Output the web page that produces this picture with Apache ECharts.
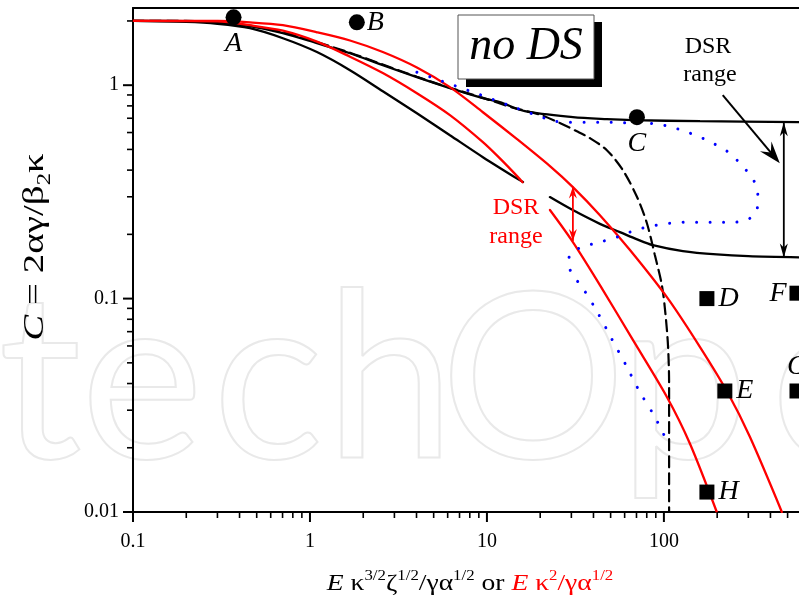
<!DOCTYPE html>
<html><head><meta charset="utf-8">
<script src="https://cdn.jsdelivr.net/npm/echarts@6/dist/echarts.min.js"></script>
<style>html,body{margin:0;padding:0;background:#fff}#c{width:799px;height:602px}</style>
</head><body><div id="c"></div>
<script>
const X_MIN = 0.1, X_MAX = 580, Y_MIN = 0.01, Y_MAX = 2.3;
const xTickValues = [0.1, 1, 10, 100];
const xTickLabels = ['0.1', '1', '10', '100'];
const yTickValues = [0.01, 0.1, 1];
const yTickLabels = ['0.01', '0.1', '1'];
const xMinorTickValues = [0.2,0.3,0.4,0.5,0.6,0.7,0.8,0.9,2,3,4,5,6,7,8,9,20,30,40,50,60,70,80,90,200,300,400,500];
const yMinorTickValues = [0.02,0.03,0.04,0.05,0.06,0.07,0.08,0.09,0.2,0.3,0.4,0.5,0.6,0.7,0.8,0.9,2];

const blackUpper = [[0.1,2.0],[0.2,1.995],[0.3,1.97],[0.458,1.89],[0.703,1.752],[1.095,1.573],[1.683,1.412],[2.58,1.241],[4.02,1.09],[6.18,0.968],[9.49,0.869],[11.8,0.833],[16.4,0.755],[30.6,0.708],[47.6,0.693],[66.8,0.686],[160,0.678],[580,0.671]];
const blackLowerA = [[0.1,2.0],[0.2,1.98],[0.3,1.94],[0.458,1.85],[0.703,1.66],[1.095,1.43],[1.683,1.176],[2.58,0.937],[4.02,0.739],[6.18,0.583],[9.49,0.46],[15.3,0.359],[16,0.352]];
const blackLowerB = [[22.7,0.299],[30,0.262],[43.5,0.224],[56.4,0.205],[70,0.19],[86.6,0.178],[128,0.167],[199,0.161],[300,0.158],[580,0.156]];
const redUpper = [[0.1,2.0],[0.3,2.0],[0.458,1.97],[0.703,1.91],[1.095,1.77],[1.683,1.62],[2.58,1.43],[4.02,1.21],[6.18,0.979],[9.49,0.747],[14.8,0.5585],[22.7,0.4175],[30.6,0.333],[43.5,0.246],[64.3,0.169],[104,0.1016],[160,0.0593],[230,0.0361],[306,0.0225],[464,0.01]];
const redLowerA = [[0.1,2.0],[0.3,1.99],[0.458,1.91],[0.703,1.8],[1.095,1.6],[1.683,1.36],[2.58,1.14],[4.02,0.917],[6.18,0.724],[9.49,0.541],[11.8,0.455],[14.8,0.375],[15.9,0.351]];
const redLowerB = [[22.7,0.26],[30.6,0.184],[43.5,0.1157],[66.8,0.064],[104,0.0346],[140,0.021],[199,0.01]];
const dashedCurve = [[0.1,2.0],[0.2,2.0],[0.3,1.98],[0.458,1.9],[0.703,1.77],[1.095,1.59],[1.683,1.42],[2.58,1.25],[4.02,1.095],[6.18,0.972],[9.49,0.872],[14,0.785],[19.9,0.728],[25.8,0.665],[32,0.61],[38.2,0.565],[47.6,0.496],[58.6,0.4],[70.4,0.3],[80.1,0.226],[88.9,0.16],[97.5,0.115],[102,0.085],[105.5,0.06],[107,0.04],[107,0.01]];
const blueDotted = [[4.02,1.15],[4.83,1.09],[5.79,1.033],[6.95,0.979],[8.34,0.927],[10.0,0.879],[11.84,0.833],[14.2,0.789],[17.05,0.747],[20.45,0.708],[24.2,0.678],[29.4,0.671],[35.8,0.671],[43.5,0.671],[52.8,0.671],[64.3,0.664],[76.0,0.664],[92.5,0.657],[111,0.636],[135,0.603],[160,0.571],[189,0.535],[227,0.491],[262,0.441],[298,0.391],[327,0.348],[340,0.299],[335,0.26],[294,0.233],[236,0.228],[194,0.228],[160,0.228],[133,0.228],[111,0.226],[91.2,0.221],[76.0,0.214],[64.3,0.205],[54.2,0.194],[43.5,0.184],[35.8,0.176],[30.2,0.165],[28.7,0.1466],[30.6,0.129],[34.8,0.112],[42.4,0.0855],[50.8,0.0646],[61.0,0.0488],[73.1,0.0365],[88.9,0.0279],[105.4,0.021]];

const circleNames = ['A', 'B', 'C'];
const circleX = [0.37, 1.84, 70.4];
const circleY = [2.08, 1.97, 0.708];
const squareNames = ['D', 'E', 'F', 'G', 'H'];
const squareX = [175, 221, 565, 565, 175];
const squareY = [0.1, 0.0369, 0.106, 0.0369, 0.0124];

const blackArrowX = 476, blackArrowTop = 0.671, blackArrowBottom = 0.156;
const redArrowX = 30.6, redArrowTop = 0.335, redArrowBottom = 0.186;
const diagArrowFrom = [215, 0.898], diagArrowTo = [452, 0.431];

const F = 'Liberation Serif';
const labelPos = {A:['bottom',4], B:['right',2], C:['bottom',4], D:['right',4], E:['right',4], F:['left',3], G:['top',3], H:['right',4]};

function fmt(values, labels) {
  return function (v) {
    for (let i = 0; i < values.length; i++) {
      if (Math.abs(Math.log10(v / values[i])) < 1e-6) return labels[i];
    }
    return '';
  };
}
function tickSeries(data, dir, len, width) {
  return {
    type: 'custom', coordinateSystem: 'cartesian2d', silent: true, clip: false, z: 6,
    data: data,
    renderItem: function (params, api) {
      const p = api.coord([api.value(0), api.value(1)]);
      const shape = dir === 'x' ? {x1: p[0], y1: p[1], x2: p[0], y2: p[1] + len}
                                : {x1: p[0], y1: p[1], x2: p[0] - len, y2: p[1]};
      return {type: 'line', shape: shape, style: {stroke: '#000', lineWidth: width}};
    }
  };
}
function lineSeries(data, color, type, width, z) {
  return {type: 'line', data: data, showSymbol: false, symbol: 'none', smooth: 0.3, z: z || 2, silent: true,
    lineStyle: {color: color, width: width, type: type, cap: 'round', opacity: 1}};
}
const pointLabel = {show: true, formatter: '{b}', fontFamily: F, fontStyle: 'italic', fontSize: 28, color: '#000', opacity: 1};

const chart = echarts.init(document.getElementById('c'), null, {renderer: 'canvas'});
const option = {
  animation: false,
  backgroundColor: '#fff',
  grid: {left: 133, right: 0, top: 8, bottom: 90, containLabel: false, outerBoundsMode: 'none'},
  xAxis: [
    {type: 'log', logBase: 10, min: X_MIN, max: X_MAX, position: 'bottom',
      axisLine: {onZero: false, lineStyle: {color: '#000', width: 2}},
      axisTick: {show: false}, splitLine: {show: false},
      axisLabel: {formatter: fmt(xTickValues, xTickLabels), fontFamily: F, fontSize: 20, color: '#000', margin: 20}},
    {type: 'log', logBase: 10, min: X_MIN, max: X_MAX, position: 'top',
      axisLine: {onZero: false, lineStyle: {color: '#000', width: 2}},
      axisTick: {show: false}, splitLine: {show: false}, axisLabel: {show: false}}
  ],
  yAxis: [
    {type: 'log', logBase: 10, min: Y_MIN, max: Y_MAX,
      axisLine: {onZero: false, lineStyle: {color: '#000', width: 2}},
      axisTick: {show: false}, splitLine: {show: false},
      axisLabel: {formatter: fmt(yTickValues, yTickLabels), fontFamily: F, fontSize: 20, color: '#000', margin: 14}}
  ],
  series: [
    tickSeries(xTickValues.map(v => [v, Y_MIN]), 'x', 10, 2),
    tickSeries(xMinorTickValues.map(v => [v, Y_MIN]), 'x', 6, 1.6),
    tickSeries(yTickValues.map(v => [X_MIN, v]), 'y', 10, 2),
    tickSeries(yMinorTickValues.map(v => [X_MIN, v]), 'y', 6, 1.6),
    lineSeries(blackUpper, '#000', 'solid', 2.3),
    lineSeries(blackLowerA, '#000', 'solid', 2.3),
    lineSeries(blackLowerB, '#000', 'solid', 2.3),
    lineSeries(dashedCurve, '#000', [11, 6], 2.2),
    lineSeries(redUpper, '#ff0000', 'solid', 2.3),
    lineSeries(redLowerA, '#ff0000', 'solid', 2.3),
    lineSeries(redLowerB, '#ff0000', 'solid', 2.3),
    lineSeries(blueDotted, '#0000ff', [0.01, 13.5], 3, 3),
    {type: 'scatter', symbol: 'circle', symbolSize: 16, z: 5, silent: true,
      itemStyle: {color: '#000', opacity: 1},
      label: pointLabel,
      data: circleNames.map((n, i) => ({name: n, value: [circleX[i], circleY[i]],
        label: {position: labelPos[n][0], distance: labelPos[n][1]}}))},
    {type: 'scatter', symbol: 'rect', symbolSize: 15, z: 5, silent: true,
      itemStyle: {color: '#000', opacity: 1},
      label: pointLabel,
      data: squareNames.map((n, i) => ({name: n, value: [squareX[i], squareY[i]],
        label: {position: labelPos[n][0], distance: labelPos[n][1]}}))}
  ]
};
chart.setOption(option);

const P = (x, y) => chart.convertToPixel({gridIndex: 0}, [x, y]);
function seg(p1, p2, color, w) {
  return {type: 'line', z: 20, silent: true, shape: {x1: p1[0], y1: p1[1], x2: p2[0], y2: p2[1]}, style: {stroke: color, lineWidth: w}};
}
function head(tip, from, color, len, hw, notch) {
  const dx = tip[0] - from[0], dy = tip[1] - from[1];
  const L = Math.hypot(dx, dy), ux = dx / L, uy = dy / L, px = -uy, py = ux;
  const bx = tip[0] - ux * len, by = tip[1] - uy * len;
  const nx = tip[0] - ux * notch, ny = tip[1] - uy * notch;
  return {type: 'polygon', z: 21, silent: true,
    shape: {points: [tip, [bx + px * hw, by + py * hw], [nx, ny], [bx - px * hw, by - py * hw]]},
    style: {fill: color}};
}
function doubleArrow(a, b, color, w, len, hw, notch) {
  return [seg(a, b, color, w), head(a, b, color, len, hw, notch), head(b, a, color, len, hw, notch)];
}
const bt = P(blackArrowX, blackArrowTop), bb = P(blackArrowX, blackArrowBottom);
const rt = P(redArrowX, redArrowTop), rb = P(redArrowX, redArrowBottom);
const df = P(diagArrowFrom[0], diagArrowFrom[1]), dtp = P(diagArrowTo[0], diagArrowTo[1]);

const txt = (text, x, y, size, color, italic, align) => ({type: 'text', z: 22, silent: true, x: x, y: y,
  style: {text: text, fill: color, font: (italic ? 'italic ' : '') + size + 'px "' + F + '"',
    align: align || 'center', textAlign: align || 'center', verticalAlign: 'middle', textVerticalAlign: 'middle'}});

const wm = (ch, x) => ({type: 'text', z: -1, silent: true, x: x, y: 499,
  style: {text: ch, fill: 'none', stroke: '#e9e9e9', lineWidth: 2, font: '232px Lato',
    align: 'center', textAlign: 'center', verticalAlign: 'bottom', textVerticalAlign: 'bottom'}});

const graphics = [
  wm('t', 40), wm('e', 142), wm('c', 268), wm('h', 390), wm('O', 533), wm('p', 684), wm('e', 832),
  {type: 'rect', z: 10, silent: true, shape: {x: 466, y: 22, width: 136, height: 65}, style: {fill: '#000'}},
  {type: 'rect', z: 11, silent: true, shape: {x: 458, y: 15, width: 136, height: 64}, style: {fill: '#fff', stroke: '#555', lineWidth: 1}},
  txt('no DS', 526, 47, 46, '#000', true),
  txt('DSR', 708, 47, 24, '#000'),
  txt('range', 710, 75, 24, '#000'),
  txt('DSR', 516, 208, 24, '#ff0000'),
  txt('range', 516, 237, 24, '#ff0000'),
  ...doubleArrow(bt, bb, '#000', 1.8, 14, 4, 10),
  ...doubleArrow(rt, rb, '#ff0000', 1.8, 12, 4, 8),
  seg(df, [dtp[0] - (dtp[0] - df[0]) * 0.12, dtp[1] - (dtp[1] - df[1]) * 0.12], '#000', 2),
  head(dtp, df, '#000', 22, 7.5, 14),
  {type: 'text', z: 22, silent: true, x: 35, y: 247, rotation: Math.PI / 2, scaleX: 1.3,
    style: {text: '{i|C}{n| = 2αγ/β}{b|2}{n|κ}', align: 'center', textAlign: 'center', verticalAlign: 'middle', textVerticalAlign: 'middle',
      rich: {i: {fontFamily: F, fontStyle: 'italic', fontSize: 30, lineHeight: 40, fill: '#000', color: '#000'},
             n: {fontFamily: F, fontSize: 30, lineHeight: 40, fill: '#000', color: '#000'},
             b: {fontFamily: F, fontSize: 19, lineHeight: 22, verticalAlign: 'bottom', fill: '#000', color: '#000'}}}},
  {type: 'text', z: 22, silent: true, x: 470, y: 584, scaleX: 1.2,
    style: {text: '{e|E}{n| κ}{s|3/2}{n|ζ}{s|1/2}{n|/γα}{s|1/2}{n| or }{re|E}{r| κ}{rs|2}{r|/γα}{rs|1/2}',
      align: 'center', textAlign: 'center', verticalAlign: 'middle', textVerticalAlign: 'middle',
      rich: {e: {fontFamily: F, fontStyle: 'italic', fontSize: 23, lineHeight: 30, fill: '#000', color: '#000'},
             n: {fontFamily: F, fontSize: 23, lineHeight: 30, fill: '#000', color: '#000'},
             s: {fontFamily: F, fontSize: 14, lineHeight: 16, verticalAlign: 'top', fill: '#000', color: '#000'},
             re: {fontFamily: F, fontStyle: 'italic', fontSize: 23, lineHeight: 30, fill: '#ff0000', color: '#ff0000'},
             r: {fontFamily: F, fontSize: 23, lineHeight: 30, fill: '#ff0000', color: '#ff0000'},
             rs: {fontFamily: F, fontSize: 14, lineHeight: 16, verticalAlign: 'top', fill: '#ff0000', color: '#ff0000'}}}}
];
chart.setOption({graphic: {elements: graphics}});
</script></body></html>
